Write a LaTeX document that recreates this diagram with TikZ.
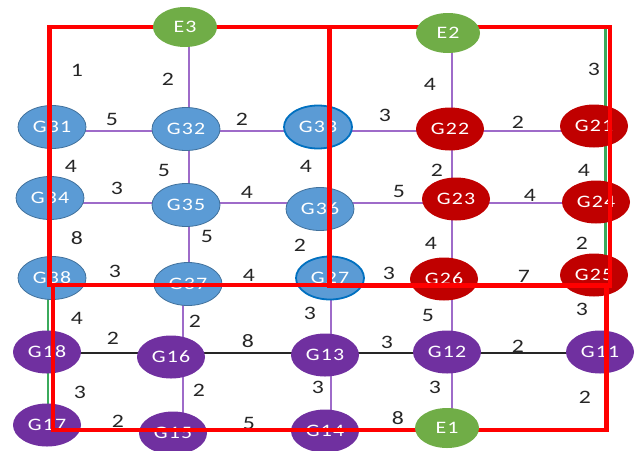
\documentclass[tikz,border=0pt]{standalone}
\usepackage{fontspec}
\usepackage{graphicx}
\usetikzlibrary{shapes.geometric}
\newfontfamily\cf{Carlito}[LetterSpace=5]
\newcommand\sx[1]{\scalebox{1.25}[1]{#1}}
\pgfdeclarelayer{edgelayer}
\pgfdeclarelayer{redlayer}
\pgfdeclarelayer{toplayer}
\pgfsetlayers{edgelayer,main,redlayer,toplayer}
\definecolor{nblue}{HTML}{5B9BD5}
\definecolor{nbluedark}{HTML}{41719C}
\definecolor{nblueb}{HTML}{0070C0}
\definecolor{nred}{HTML}{C00000}
\definecolor{npurple}{HTML}{7030A0}
\definecolor{ngreen}{HTML}{70AD47}
\definecolor{epurple}{HTML}{9E6BC9}
\definecolor{egreen}{HTML}{3BAA5C}
\definecolor{rred}{HTML}{FF0000}
\begin{document}
\begin{tikzpicture}[x=1pt,y=-1pt,
  gn/.style={ellipse, minimum width=68pt, minimum height=43pt, inner sep=0pt,
             font=\cf\fontsize{17.5}{17.5}\selectfont, text=white},
  bluenode/.style={gn, fill=nblue, draw=nbluedark, line width=0.8pt},
  bluebnode/.style={gn, fill=nblue, draw=nblueb, line width=1.8pt},
  rednode/.style={gn, fill=nred},
  purplenode/.style={gn, fill=npurple},
  enode/.style={gn, fill=ngreen, minimum width=64pt, minimum height=40pt},
  wl/.style={font=\cf\fontsize{19}{19}\selectfont, text=black!85, inner sep=0pt},
  pe/.style={draw=epurple, line width=1.6pt},
  be/.style={draw=black!85, line width=1.6pt},
  ge/.style={draw=egreen, line width=2.4pt},
  redline/.style={draw=rred, line width=4.5pt, line join=miter}]
\useasboundingbox (0,0) rectangle (636,450);

% ---- nodes ----
\node[bluenode]  (g31) at (52,127)  {\sx{G31}};
\node[bluenode]  (g32) at (186,129) {\sx{G32}};
\node[bluebnode] (g33) at (318,127) {\sx{G33}};
\node[rednode]   (g22) at (450,129) {\sx{G22}};
\node[rednode]   (g21) at (594,126) {\sx{G21}};
\node[bluenode]  (g34) at (50,198)  {\sx{G34}};
\node[bluenode]  (g35) at (186,205) {\sx{G35}};
\node[bluenode]  (g36) at (320,209) {\sx{G36}};
\node[rednode]   (g23) at (456,199) {\sx{G23}};
\node[rednode]   (g24) at (596,202) {\sx{G24}};
\node[bluenode]  (g38) at (52,278)  {\sx{G38}};
\node[bluenode]  (g37) at (188,284) {\sx{G37}};
\node[bluebnode] (g27) at (330,278) {\sx{G27}};
\node[rednode]   (g26) at (444,279) {\sx{G26}};
\node[rednode]   (g25) at (594,275) {\sx{G25}};
\node[purplenode] (g18) at (47,352)  {\sx{G18}};
\node[purplenode] (g16) at (171,357) {\sx{G16}};
\node[purplenode] (g13) at (325,355) {\sx{G13}};
\node[purplenode] (g12) at (447,352) {\sx{G12}};
\node[purplenode] (g11) at (600,352) {\sx{G11}};
\node[purplenode] (g17) at (47,425)  {\sx{G17}};
\node[purplenode] (g15) at (173,433) {\sx{G15}};
\node[purplenode] (g14) at (325,431) {\sx{G14}};
\begin{pgfonlayer}{toplayer}
\node[enode] (e3) at (185,27)  {\sx{E3}};
\node[enode] (e2) at (448,33)  {\sx{E2}};
\node[enode] (e1) at (447,428) {\sx{E1}};
\end{pgfonlayer}

% ---- weight labels ----
\node[wl] (w01) at (77,70)   {\sx{1}};
\node[wl] (w02) at (168,79)  {\sx{2}};
\node[wl] (w03) at (112,119) {\sx{5}};
\node[wl] (w04) at (242,119) {\sx{2}};
\node[wl] (w05) at (430,84)  {\sx{4}};
\node[wl] (w06) at (594,69)  {\sx{3}};
\node[wl] (w07) at (385,115) {\sx{3}};
\node[wl] (w08) at (518,122) {\sx{2}};
\node[wl] (w09) at (71,166)  {\sx{4}};
\node[wl] (w10) at (164,170) {\sx{5}};
\node[wl] (w11) at (306,166) {\sx{4}};
\node[wl] (w12) at (437,170) {\sx{2}};
\node[wl] (w13) at (584,170) {\sx{4}};
\node[wl] (w14) at (117,188) {\sx{3}};
\node[wl] (w15) at (247,192) {\sx{4}};
\node[wl] (w16) at (399,191) {\sx{5}};
\node[wl] (w17) at (530,195) {\sx{4}};
\node[wl] (w18) at (77,238)  {\sx{8}};
\node[wl] (w19) at (207,236) {\sx{5}};
\node[wl] (w20) at (300,245) {\sx{2}};
\node[wl] (w21) at (431,243) {\sx{4}};
\node[wl] (w22) at (582,243) {\sx{2}};
\node[wl] (w23) at (115,271) {\sx{3}};
\node[wl] (w24) at (249,275) {\sx{4}};
\node[wl] (w25) at (389,273) {\sx{3}};
\node[wl] (w26) at (524,276) {\sx{7}};
\node[wl] (w27) at (77,318)  {\sx{4}};
\node[wl] (w28) at (195,321) {\sx{2}};
\node[wl] (w29) at (310,313) {\sx{3}};
\node[wl] (w30) at (428,315) {\sx{5}};
\node[wl] (w31) at (582,309) {\sx{3}};
\node[wl] (w32) at (113,338) {\sx{2}};
\node[wl] (w33) at (248,341) {\sx{8}};
\node[wl] (w34) at (387,342) {\sx{3}};
\node[wl] (w35) at (518,346) {\sx{2}};
\node[wl] (w36) at (80,392)  {\sx{3}};
\node[wl] (w37) at (199,390) {\sx{2}};
\node[wl] (w38) at (318,387) {\sx{3}};
\node[wl] (w39) at (435,387) {\sx{3}};
\node[wl] (w40) at (585,397) {\sx{2}};
\node[wl] (w41) at (118,421) {\sx{2}};
\node[wl] (w42) at (249,423) {\sx{5}};
\node[wl] (w43) at (398,418) {\sx{8}};

% ---- guide coordinates ----
\coordinate (ca) at (189,0);
\coordinate (cb) at (183,0);
\coordinate (cm) at (329.5,0);
\coordinate (cc) at (331,0);
\coordinate (cd) at (452,0);
\coordinate (gl) at (48,0);
\coordinate (gr) at (605.5,0);
\coordinate (tp) at (0,27);
\coordinate (r1) at (0,131);
\coordinate (r2) at (0,203);
\coordinate (r3) at (0,285);
\coordinate (r4) at (0,353);
\coordinate (r5) at (0,430);

% ---- edges ----
\begin{pgfonlayer}{edgelayer}
% perimeter (green)
\draw[ge] (e3) -- (gl |- e3) -- (gl |- g31);
\draw[ge] (gl |- g31) -- (gl |- g34);
\draw[ge] (gl |- g34) -- (gl |- g38);
\draw[ge] (gl |- g38) -- (gl |- g18);
\draw[ge] (gl |- g18) -- (gl |- g17);
\draw[ge] (e2 |- tp) -- (gr |- tp) -- (gr |- g21);
\draw[ge] (gr |- g21) -- (gr |- g24);
\draw[ge] (gr |- g24) -- (gr |- g25);
\draw[ge] (gr |- g25) -- (gr |- g11);
\draw[ge] (gr |- g11) -- (gr |- r5) -- (e1 |- r5);
% rows
\draw[pe] (g31 |- r1) -- (g32 |- r1);
\draw[pe] (g32 |- r1) -- (g33 |- r1);
\draw[pe] (g33 |- r1) -- (g22 |- r1);
\draw[pe] (g22 |- r1) -- (g21 |- r1);
\draw[pe] (g34 |- r2) -- (g35 |- r2);
\draw[pe] (g35 |- r2) -- (g36 |- r2);
\draw[pe] (g36 |- r2) -- (g23 |- r2);
\draw[pe] (g23 |- r2) -- (g24 |- r2);
\draw[pe] (g38 |- r3) -- (g37 |- r3);
\draw[pe] (g37 |- r3) -- (g27 |- r3);
\draw[pe] (g27 |- r3) -- (g26 |- r3);
\draw[pe] (g26 |- r3) -- (g25 |- r3);
\draw[be] (g18 |- r4) -- (g16 |- r4);
\draw[be] (g16 |- r4) -- (g13 |- r4);
\draw[be] (g13 |- r4) -- (g12 |- r4);
\draw[be] (g12 |- r4) -- (g11 |- r4);
\draw[pe] (g17 |- r5) -- (g15 |- r5);
\draw[pe] (g15 |- r5) -- (g14 |- r5);
\draw[pe] (g14 |- r5) -- (e1 |- r5);
% columns
\draw[pe] (ca |- e3) -- (ca |- g32);
\draw[pe] (ca |- g32) -- (ca |- g35);
\draw[pe] (ca |- g35) -- (ca |- g37);
\draw[pe] (cb |- g37) -- (cb |- g16);
\draw[pe] (cb |- g16) -- (cb |- g15);
\draw[pe] (cm |- g33) -- (cm |- g36);
\draw[pe] (cm |- g36) -- (cm |- g27);
\draw[pe] (cc |- g27) -- (cc |- g13);
\draw[pe] (cc |- g13) -- (cc |- g14);
\draw[pe] (cd |- e2) -- (cd |- g22);
\draw[pe] (cd |- g22) -- (cd |- g23);
\draw[pe] (cd |- g23) -- (cd |- g26);
\draw[pe] (cd |- g26) -- (cd |- g12);
\draw[pe] (cd |- g12) -- (cd |- e1);
\end{pgfonlayer}

% ---- red rectangles ----
\coordinate (ra) at (49.5,27);
\coordinate (rb) at (329.5,285);
\coordinate (rc) at (610,286);
\coordinate (rd) at (53,285);
\coordinate (re) at (606.5,430);
\begin{pgfonlayer}{redlayer}
\draw[redline] (ra) rectangle (rb);
\draw[redline] (rb |- ra) rectangle (rc);
\draw[redline] (rd) rectangle (re);
\end{pgfonlayer}
\end{tikzpicture}
\end{document}
